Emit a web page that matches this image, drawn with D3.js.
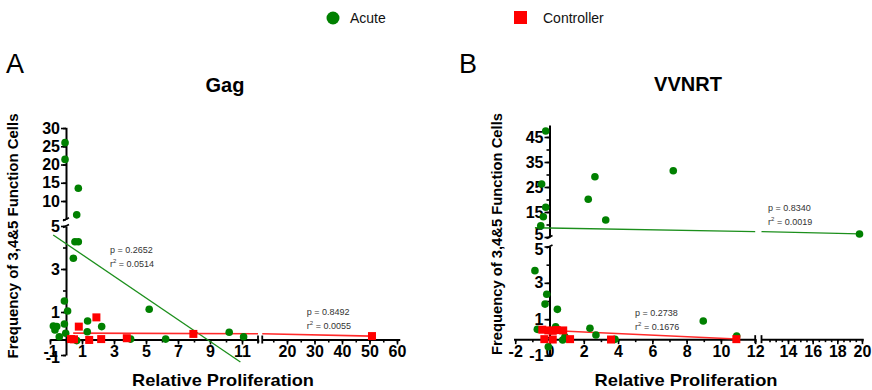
<!DOCTYPE html>
<html><head><meta charset="utf-8">
<script src="https://cdn.jsdelivr.net/npm/d3@7"></script>
<style>body{margin:0;background:#fff} svg{display:block}</style>
</head><body>
<svg id="chart" width="872" height="390"></svg>
<script>
// ---------------- DATA ----------------
const seriesNames = ["Acute", "Controller"];
const panelLetters = ["A", "B"];
const panelTitles = ["Gag", "VVNRT"];
const yAxisTitle = "Frequency of 3,4&5 Function  Cells";
const xAxisTitle = "Relative Proliferation";

// Panel A (Gag)
const gagAcuteX = [-0.06, -0.06, 0.77, 0.67, 0.56, 0.77, 0.46, -0.1, 0.1, -0.79, -0.58, -0.69, -0.42, -0.1, -0.02, 0.67, 1.35, 1.33, 2.23, 5.2, 4.04, 6.23, 10.2, 11.1];
const gagAcuteY = [26.0, 21.4, 13.5, 6.2, 4.27, 4.27, 3.5, 1.51, 1.05, 0.35, 0.32, 0.16, -0.15, 0.44, 0.01, -0.33, 0.58, 0.08, 0.32, 1.13, -0.26, -0.26, 0.06, -0.15];
const gagControllerX = [0.31, 0.5, 0.8, 1.9, 1.45, 2.2, 3.8, 7.96, 50.9];
const gagControllerY = [-0.26, -0.27, 0.32, 0.75, -0.3, -0.26, -0.22, -0.02, -0.12];
const gagFitIntercept = [4.18, 0.02];
const gagFitSlope = [-0.505, -0.0028];
const gagFitXFrom = [-0.8, 0.45];
const gagFitXTo = [10.9, 50.9];
const gagPValues = ["0.2652", "0.8492"];
const gagR2Values = ["0.0514", "0.0055"];
const gagXTicksLeft = [-1, 1, 3, 5, 7, 9, 11];
const gagXTicksRight = [20, 30, 40, 50, 60];
const gagYTicksLower = [-1, 1, 3, 5];
const gagYTicksUpper = [10, 15, 20, 25, 30];

// Panel B (VVNRT)
const vvnrtAcuteX = [-0.22, -0.46, -0.22, -0.36, -0.51, 2.26, 2.65, 3.28, 7.22, 19.8, -0.85, -0.16, -0.26, 0.46, -0.71, 0.36, -0.07, 0.77, 0.9, 2.36, 2.71, 3.82, 8.97, 10.92];
const vvnrtAcuteY = [47.4, 26.2, 16.9, 13.1, 9.5, 20.1, 29.1, 11.8, 31.5, 6.2, 3.67, 2.37, 1.83, 1.54, 0.44, 0.58, -0.52, -0.15, 0.03, 0.5, 0.13, -0.11, 0.9, 0.07];
const vvnrtControllerX = [-0.42, -0.07, 0.19, 0.42, 0.8, -0.3, 0.19, 1.2, 3.59, 10.9];
const vvnrtControllerY = [0.42, 0.38, 0.36, 0.4, 0.38, -0.1, -0.12, -0.1, -0.12, -0.1];
const vvnrtFitIntercept = [8.6, 0.376];
const vvnrtFitSlope = [-0.12, -0.043];
const vvnrtFitXFrom = [-0.85, -0.55];
const vvnrtFitXTo = [19.8, 10.92];
const vvnrtPValues = ["0.8340", "0.2738"];
const vvnrtR2Values = ["0.0019", "0.1676"];
const vvnrtXTicksLeft = [-2, 0, 2, 4, 6, 8, 10, 12];
const vvnrtXTicksRight = [14, 16, 18, 20];
const vvnrtYTicksLower = [-1, 1, 3, 5];
const vvnrtYTicksUpper = [5, 15, 25, 35, 45];

// ---------------- LAYOUT ----------------
const colors = {Acute: "#008000", Controller: "#ff0000"};
const lineColors = {Acute: "#1c8f1c", Controller: "#ff2a2a"};
const FONT = "'Liberation Sans', Arial, Helvetica, sans-serif";

const panels = [
  {
    letter: panelLetters[0], title: panelTitles[0],
    acute: {x: gagAcuteX, y: gagAcuteY}, ctrl: {x: gagControllerX, y: gagControllerY},
    fit: {b: gagFitIntercept, m: gagFitSlope, x0: gagFitXFrom, x1: gagFitXTo, p: gagPValues, r2: gagR2Values},
    ticks: {xl: gagXTicksLeft, xr: gagXTicksRight, yl: gagYTicksLower, yu: gagYTicksUpper},
    minor: {xl: d3.range(-1, 12.01, 1), xr: d3.range(15, 60.01, 5), yl: d3.range(-1, 5.01, 1), yu: d3.range(5, 30.01, 5)},
    xLeftDomain: [-1, 12], xLeftRange: [50, 258],
    xRightDomain: [11, 61], xRightRange: [262.25, 399.75],
    yLowDomain: [-1, 5], yLowRange: [355, 226],
    yUpDomain: [5, 30.2], yUpRange: [219.25, 127.3],
    xBreak: 12, yBreak: 5, xAxisAt: -0.28,
    upperLabelShift: 0, lowerLabelShift: 0, minYLabelShift: 2,
    annot: [{x: 2.75, y: 3.74}, {x: 27.2, y: 0.86}],
    letterPos: [6, 73], titleX: 225, titleY: 92,
    yTitleX: 18, yTitleY: 236, yTitleLen: 245,
    xTitleX: 223, xTitleY: 386, xTitleLen: 182
  },
  {
    letter: panelLetters[1], title: panelTitles[1],
    acute: {x: vvnrtAcuteX, y: vvnrtAcuteY}, ctrl: {x: vvnrtControllerX, y: vvnrtControllerY},
    fit: {b: vvnrtFitIntercept, m: vvnrtFitSlope, x0: vvnrtFitXFrom, x1: vvnrtFitXTo, p: vvnrtPValues, r2: vvnrtR2Values},
    ticks: {xl: vvnrtXTicksLeft, xr: vvnrtXTicksRight, yl: vvnrtYTicksLower, yu: vvnrtYTicksUpper},
    minor: {xl: d3.range(-2, 12.01, 1), xr: d3.range(12.5, 20.01, 0.5), yl: d3.range(-1, 5.01, 1), yu: d3.range(5, 45.01, 5)},
    xLeftDomain: [-2.1, 12], xLeftRange: [513.5, 755.2],
    xRightDomain: [11.85, 20.1], xRightRange: [761.5, 863.2],
    yLowDomain: [-1, 5], yLowRange: [355.5, 246.5],
    yUpDomain: [5, 49.8], yUpRange: [237, 125],
    xBreak: 12, yBreak: 5, xAxisAt: -0.1,
    upperLabelShift: -2.5, lowerLabelShift: 2.5, minYLabelShift: 0,
    annot: [{x: 12.38, y: 15.4}, {x: 4.99, y: 1.17}],
    letterPos: [459, 73], titleX: 688, titleY: 91,
    yTitleX: 502, yTitleY: 234, yTitleLen: 242,
    xTitleX: 686, xTitleY: 386, xTitleLen: 183
  }
];

const svg = d3.select("#chart");
const intFmt = d => String(d);   // plain hyphen-minus, as in the original

// Legend
const legend = svg.append("g");
legend.append("circle").attr("cx", 333).attr("cy", 18).attr("r", 6.5).attr("fill", colors.Acute);
legend.append("text").attr("x", 350).attr("y", 23).text(seriesNames[0])
  .attr("font-family", FONT).attr("font-size", 14).attr("fill", "#111");
legend.append("rect").attr("x", 514).attr("y", 11).attr("width", 13).attr("height", 13).attr("fill", colors.Controller);
legend.append("text").attr("x", 543).attr("y", 23).text(seriesNames[1])
  .attr("font-family", FONT).attr("font-size", 14).attr("fill", "#111");

function styleAxis(sel, withLabels) {
  sel.select(".domain").attr("stroke", "#000").attr("stroke-width", 2);
  sel.selectAll(".tick line").attr("stroke", "#000").attr("stroke-width", 1.6);
  if (withLabels) {
    sel.selectAll(".tick text").attr("font-family", FONT).attr("font-weight", "bold")
      .attr("font-size", 16).attr("fill", "#000");
  }
}

panels.forEach(cfg => {
  const g = svg.append("g");
  const xL = d3.scaleLinear().domain(cfg.xLeftDomain).range(cfg.xLeftRange);
  const xR = d3.scaleLinear().domain(cfg.xRightDomain).range(cfg.xRightRange);
  const yLo = d3.scaleLinear().domain(cfg.yLowDomain).range(cfg.yLowRange);
  const yUp = d3.scaleLinear().domain(cfg.yUpDomain).range(cfg.yUpRange);
  const xMap = v => v <= cfg.xBreak ? xL(v) : xR(v);
  const yMap = v => v <= cfg.yBreak ? yLo(v) : yUp(v);
  const axisY = yLo(cfg.xAxisAt);
  const axisX = xL(0);

  // Panel letter and title
  g.append("text").attr("x", cfg.letterPos[0]).attr("y", cfg.letterPos[1]).text(cfg.letter)
    .attr("font-family", FONT).attr("font-size", 27).attr("fill", "#000");
  g.append("text").attr("x", cfg.titleX).attr("y", cfg.titleY).text(cfg.title)
    .attr("text-anchor", "middle").attr("font-family", FONT).attr("font-weight", "bold")
    .attr("font-size", 20).attr("fill", "#000");

  // X axes (two segments)
  [[xL, cfg.ticks.xl, cfg.minor.xl], [xR, cfg.ticks.xr, cfg.minor.xr]].forEach(([sc, major, minor]) => {
    const gm = g.append("g").attr("transform", `translate(0,${axisY})`)
      .call(d3.axisBottom(sc).tickValues(minor).tickSize(3).tickSizeOuter(0).tickFormat(""));
    gm.select(".domain").remove();
    styleAxis(gm, false);
    const ga = g.append("g").attr("transform", `translate(0,${axisY})`)
      .call(d3.axisBottom(sc).tickValues(major).tickSize(5).tickPadding(1).tickSizeOuter(0).tickFormat(intFmt));
    styleAxis(ga, true);
  });
  // x break caps
  [xL.range()[1], xR.range()[0]].forEach(px => {
    g.append("line").attr("x1", px).attr("x2", px).attr("y1", axisY - 4).attr("y2", axisY + 4)
      .attr("stroke", "#000").attr("stroke-width", 1.8);
  });

  // Y axes (two segments)
  [[yLo, cfg.ticks.yl, cfg.minor.yl, cfg.lowerLabelShift], [yUp, cfg.ticks.yu, cfg.minor.yu, cfg.upperLabelShift]].forEach(([sc, major, minor, shift]) => {
    const gm = g.append("g").attr("transform", `translate(${axisX},0)`)
      .call(d3.axisLeft(sc).tickValues(minor).tickSize(3).tickSizeOuter(0).tickFormat(""));
    gm.select(".domain").remove();
    styleAxis(gm, false);
    const ga = g.append("g").attr("transform", `translate(${axisX},0)`)
      .call(d3.axisLeft(sc).tickValues(major).tickSize(5).tickPadding(1).tickSizeOuter(0).tickFormat(intFmt));
    styleAxis(ga, true);
    ga.selectAll(".tick text").filter(d => d === cfg.yBreak).attr("y", shift);
    ga.selectAll(".tick text").filter(d => d === cfg.yLowDomain[0]).attr("y", cfg.minYLabelShift);
  });
  // y break marks
  [yLo.range()[1], yUp.range()[0]].forEach(py => {
    g.append("line").attr("x1", axisX - 3).attr("x2", axisX + 3).attr("y1", py + 1.5).attr("y2", py - 1.5)
      .attr("stroke", "#000").attr("stroke-width", 1.6);
  });

  // Axis titles
  g.append("text").attr("transform", `translate(${cfg.yTitleX},${cfg.yTitleY}) rotate(-90)`)
    .attr("text-anchor", "middle").text(yAxisTitle)
    .attr("font-family", FONT).attr("font-weight", "bold").attr("font-size", 14).attr("fill", "#000")
    .attr("textLength", cfg.yTitleLen).attr("lengthAdjust", "spacingAndGlyphs");
  g.append("text").attr("x", cfg.xTitleX).attr("y", cfg.xTitleY)
    .attr("text-anchor", "middle").text(xAxisTitle)
    .attr("font-family", FONT).attr("font-weight", "bold").attr("font-size", 17).attr("fill", "#000")
    .attr("textLength", cfg.xTitleLen).attr("lengthAdjust", "spacingAndGlyphs");

  // Regression lines (split across the broken x axis)
  const segs = [xL.domain(), xR.domain()];
  const segScales = [xL, xR];
  seriesNames.forEach((name, i) => {
    const f = v => cfg.fit.b[i] + cfg.fit.m[i] * v;
    segs.forEach((dom, si) => {
      const a = Math.max(cfg.fit.x0[i], dom[0]);
      const b = Math.min(cfg.fit.x1[i], dom[1]);
      if (a < b) {
        g.append("line")
          .attr("x1", segScales[si](a)).attr("y1", yMap(f(a)))
          .attr("x2", segScales[si](b)).attr("y2", yMap(f(b)))
          .attr("stroke", lineColors[name]).attr("stroke-width", name === "Acute" ? 1.3 : 1.6);
      }
    });
    // annotation
    const an = cfg.annot[i];
    const tx = xMap(an.x), ty = yMap(an.y);
    const t1 = g.append("text").attr("x", tx).attr("y", ty)
      .attr("font-family", FONT).attr("font-size", 9).attr("fill", "#333");
    t1.text("p = " + (name === "Acute" ? " " : "") + cfg.fit.p[i]);
    const t2 = g.append("text").attr("x", tx).attr("y", ty + 14)
      .attr("font-family", FONT).attr("font-size", 9).attr("fill", "#333");
    t2.append("tspan").text("r");
    t2.append("tspan").text("2").attr("font-size", 6).attr("dy", -4);
    t2.append("tspan").text(" = " + (name === "Acute" && cfg.letter === "A" ? " " : "") + cfg.fit.r2[i]).attr("dy", 4);
  });

  // Points
  g.append("g").selectAll("circle")
    .data(d3.range(cfg.acute.x.length))
    .join("circle")
    .attr("cx", i => xMap(cfg.acute.x[i])).attr("cy", i => yMap(cfg.acute.y[i]))
    .attr("r", 3.8).attr("fill", colors.Acute);
  const s = 8;
  g.append("g").selectAll("rect")
    .data(d3.range(cfg.ctrl.x.length))
    .join("rect")
    .attr("x", i => xMap(cfg.ctrl.x[i]) - s / 2).attr("y", i => yMap(cfg.ctrl.y[i]) - s / 2)
    .attr("width", s).attr("height", s).attr("fill", colors.Controller);
});
</script>
</body></html>
